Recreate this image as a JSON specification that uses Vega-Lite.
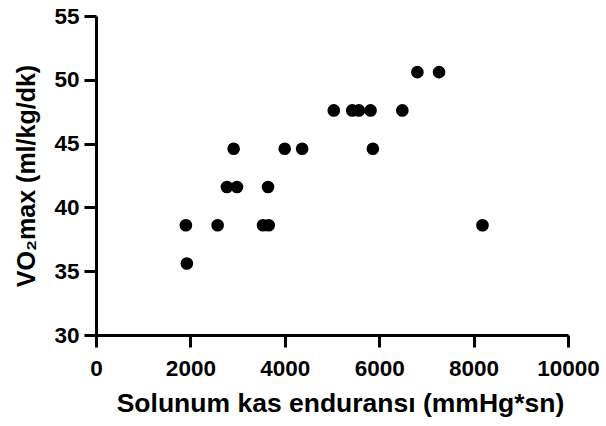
{
  "$schema": "https://vega.github.io/schema/vega-lite/v6.json",
  "width": 472,
  "height": 319,
  "autosize": {"type": "none"},
  "padding": {"left": 96, "top": 16, "right": 38, "bottom": 91},
  "background": "white",
  "config": {"view": {"stroke": null}},
  "data": {"values": [
    {"x": 6809, "y": 50.6}, {"x": 7268, "y": 50.6},
    {"x": 5038, "y": 47.6}, {"x": 5428, "y": 47.6}, {"x": 5570, "y": 47.6}, {"x": 5817, "y": 47.6}, {"x": 6490, "y": 47.6},
    {"x": 2916, "y": 44.6}, {"x": 3998, "y": 44.6}, {"x": 4367, "y": 44.6}, {"x": 5866, "y": 44.6},
    {"x": 2774, "y": 41.6}, {"x": 2987, "y": 41.6}, {"x": 3645, "y": 41.6},
    {"x": 1904, "y": 38.6}, {"x": 2577, "y": 38.6}, {"x": 3539, "y": 38.6}, {"x": 3659, "y": 38.6}, {"x": 8188, "y": 38.6},
    {"x": 1925, "y": 35.6}
  ]},
  "mark": {"type": "circle", "size": 160, "color": "black", "opacity": 1},
  "encoding": {
    "x": {
      "field": "x", "type": "quantitative",
      "scale": {"domain": [0, 10000], "nice": false, "zero": false},
      "axis": {
        "title": "Solunum kas enduransı (mmHg*sn)",
        "values": [0, 2000, 4000, 6000, 8000, 10000],
        "format": "d",
        "grid": false, "domainColor": "black", "domainWidth": 3,
        "tickColor": "black", "tickWidth": 3, "tickSize": 12,
        "labelFont": "Liberation Sans", "labelFontWeight": "bold", "labelFontSize": 22.5, "labelColor": "black",
        "labelPadding": 10, "labelFlush": false, "labelOverlap": false,
        "titleFont": "Liberation Sans", "titleFontWeight": "bold", "titleFontSize": 26.5, "titleColor": "black",
        "titlePadding": 11, "titleX": 244
      }
    },
    "y": {
      "field": "y", "type": "quantitative",
      "scale": {"domain": [30, 55], "nice": false, "zero": false},
      "axis": {
        "title": "VO₂max (ml/kg/dk)",
        "values": [30, 35, 40, 45, 50, 55],
        "grid": false, "domainColor": "black", "domainWidth": 3,
        "tickColor": "black", "tickWidth": 3, "tickSize": 12,
        "labelFont": "Liberation Sans", "labelFontWeight": "bold", "labelFontSize": 22.5, "labelColor": "black",
        "labelPadding": 5, "labelFlush": false, "labelOverlap": false,
        "titleFont": "Liberation Sans", "titleFontWeight": "bold", "titleFontSize": 25, "titleColor": "black",
        "titlePadding": 14
      }
    }
  }
}
